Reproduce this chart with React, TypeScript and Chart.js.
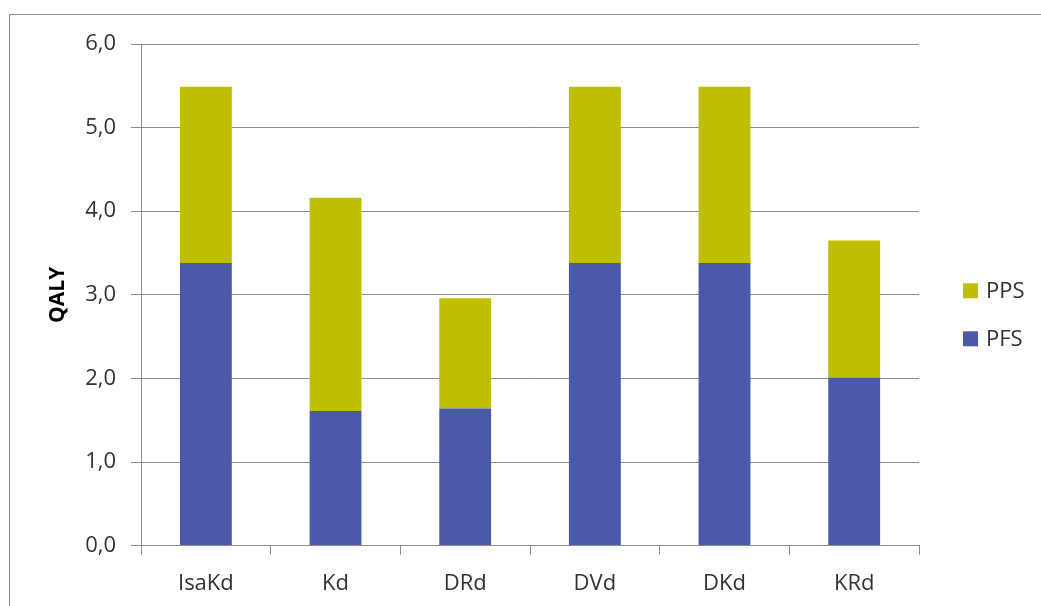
import React, { useEffect, useRef } from "react";
import { Chart, registerables } from "chart.js";

Chart.register(...registerables);

const categories = ["IsaKd", "Kd", "DRd", "DVd", "DKd", "KRd"];
const pfsValues = [3.38, 1.61, 1.64, 3.38, 3.38, 2.01];
const ppsValues = [2.11, 2.55, 1.32, 2.11, 2.11, 1.64];
const seriesNames = { pfs: "PFS", pps: "PPS" };
const axisTitle = "QALY";

const PFS_COLOR = "#4a5aa8";
const PPS_COLOR = "#bfbf00";
const GRID_COLOR = "#8c8c8c";
const TEXT_COLOR = "#333333";
const FONT = "'Open Sans', sans-serif";

// Outer frame of the chart object (top and left edges visible)
const framePlugin = {
  id: "frame",
  beforeDraw(chart: any) {
    const { ctx, width, height } = chart;
    ctx.save();
    ctx.strokeStyle = "#8a8a8a";
    ctx.lineWidth = 1;
    ctx.beginPath();
    ctx.moveTo(9.5, height);
    ctx.lineTo(9.5, 14.5);
    ctx.lineTo(width, 14.5);
    ctx.stroke();
    ctx.restore();
  },
};

// Legend column on the right, top-most series first
const sideLegendPlugin = {
  id: "sideLegend",
  afterDraw(chart: any) {
    const { ctx, chartArea } = chart;
    const mid = (chartArea.top + chartArea.bottom) / 2;
    const boxX = chartArea.right + 44;
    const items = chart.data.datasets.slice().reverse();
    ctx.save();
    ctx.font = `22px ${FONT}`;
    ctx.textBaseline = "middle";
    ctx.textAlign = "left";
    items.forEach((ds: any, i: number) => {
      const cy = mid - 4 + i * 48;
      ctx.fillStyle = ds.backgroundColor;
      ctx.fillRect(boxX, cy - 7.5, 15, 15);
      ctx.fillStyle = TEXT_COLOR;
      ctx.fillText(ds.label, boxX + 23, cy + 1);
    });
    ctx.restore();
  },
};

export default function App() {
  const canvasRef = useRef<HTMLCanvasElement | null>(null);

  useEffect(() => {
    if (!canvasRef.current) return;
    const chart = new Chart(canvasRef.current, {
      type: "bar",
      data: {
        labels: categories,
        datasets: [
          {
            label: seriesNames.pfs,
            data: pfsValues,
            backgroundColor: PFS_COLOR,
            barPercentage: 0.4,
            categoryPercentage: 1,
          },
          {
            label: seriesNames.pps,
            data: ppsValues,
            backgroundColor: PPS_COLOR,
            barPercentage: 0.4,
            categoryPercentage: 1,
          },
        ],
      },
      options: {
        animation: false,
        responsive: true,
        maintainAspectRatio: false,
        layout: { padding: { left: 45, right: 122, top: 44, bottom: -7 } },
        plugins: {
          legend: { display: false },
          tooltip: { enabled: false },
        },
        scales: {
          x: {
            stacked: true,
            offset: true,
            grid: {
              offset: true,
              drawOnChartArea: false,
              drawTicks: true,
              tickLength: 9,
              color: GRID_COLOR,
            },
            border: { color: GRID_COLOR },
            ticks: {
              color: TEXT_COLOR,
              font: { family: FONT, size: 22 },
              padding: 16,
              maxRotation: 0,
            },
          },
          y: {
            stacked: true,
            min: 0,
            max: 6,
            grid: { color: GRID_COLOR, tickLength: 10 },
            border: { color: GRID_COLOR },
            ticks: {
              stepSize: 1,
              color: TEXT_COLOR,
              font: { family: FONT, size: 22 },
              padding: 15,
              callback: (v: any) => Number(v).toFixed(1).replace(".", ","),
            },
            title: {
              display: true,
              text: axisTitle,
              color: "#000000",
              font: { family: FONT, size: 21, weight: "bold" },
              padding: { top: 0, bottom: 0 },
            },
          },
        },
      },
      plugins: [framePlugin, sideLegendPlugin],
    });
    return () => chart.destroy();
  }, []);

  return (
    <div
      style={{
        position: "fixed",
        left: 0,
        top: 0,
        width: 1041,
        height: 606,
        background: "#ffffff",
      }}
    >
      <canvas ref={canvasRef} />
    </div>
  );
}
